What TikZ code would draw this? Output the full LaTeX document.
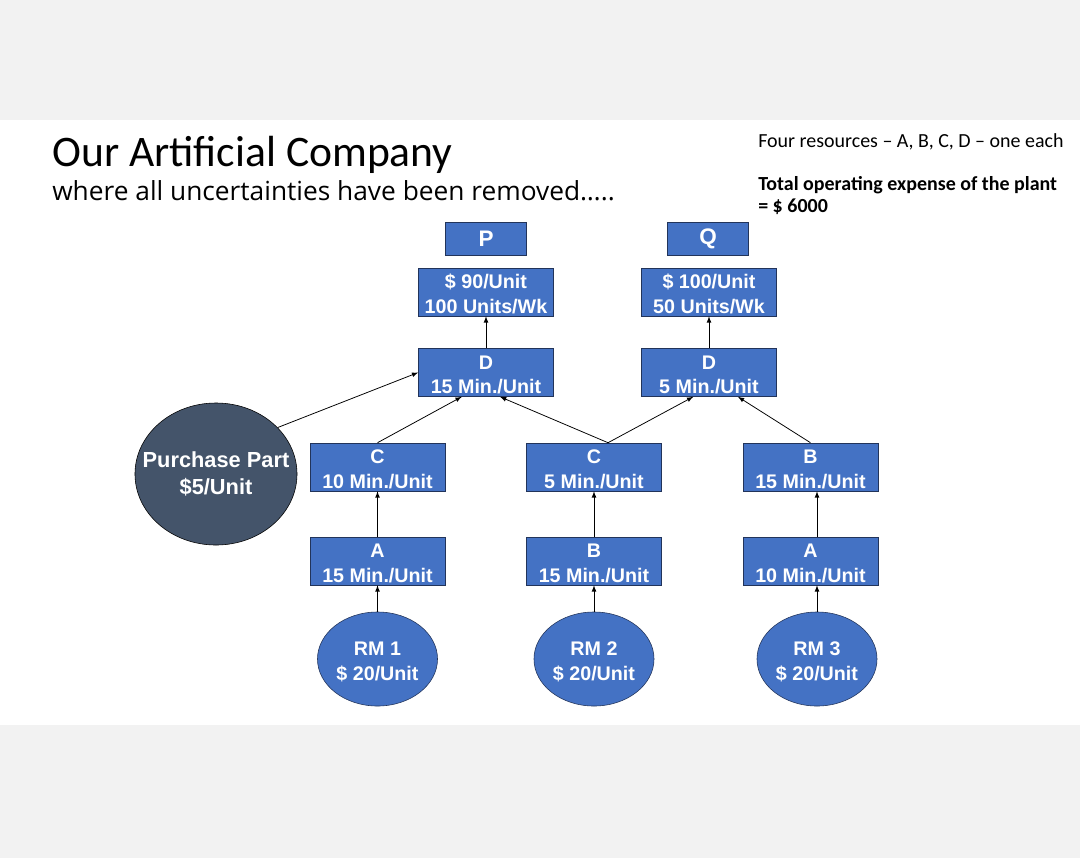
\documentclass[tikz,border=0pt]{standalone}
\usepackage{fontspec}
\setmainfont{Liberation Sans}
\newfontfamily\calibri{Carlito}
\newfontfamily\handfont{Open Sans}
\usepackage{tikz}
\usetikzlibrary{arrows,shapes.geometric}
\definecolor{boxblue}{RGB}{68,114,196}
\definecolor{boxedge}{RGB}{34,52,90}
\definecolor{slate}{RGB}{68,84,106}
\definecolor{pagegray}{RGB}{242,242,242}

\begin{document}
\begin{tikzpicture}[x=0.025cm, y=-0.025cm,
	blue/.style={draw=boxedge, fill=boxblue, text=white, align=center, inner sep=0pt,
		font=\fontsize{14}{17.5}\selectfont\bfseries},
	res/.style={blue, text height=30.5pt, minimum width=3.375cm, minimum height=1.2cm},
	prod/.style={blue, font=\fontsize{16}{18}\selectfont\bfseries, minimum width=2.025cm, minimum height=0.825cm},
	rawmat/.style={blue, ellipse, text height=31pt, minimum width=3cm, minimum height=2.35cm},
	arr/.style={-latex, line width=0.55pt}]
	\fill [pagegray] (0,0) rectangle (1080,858);
	\fill [white] (0,120) rectangle (1080,725);
	\useasboundingbox (0,0) rectangle (1080,858);
	% heading
	\node [anchor=base west, inner sep=0pt, font=\calibri\fontsize{31}{36}\selectfont] (title) at (52,166) {Our Artificial Company};
	\node [anchor=base west, inner sep=0pt, font=\handfont\fontsize{18.7}{20}\selectfont] (subtitle) at (52,200) {where all uncertainties have been removed\dots..};
	\node [anchor=base west, inner sep=0pt, font=\calibri\fontsize{14.2}{16}\selectfont] (note) at (758,147) {Four resources \textendash{} A, B, C, D \textendash{} one each};
	\node [anchor=north west, inner sep=0pt, align=left, font=\calibri\fontsize{14.2}{15.8}\bfseries\selectfont] (expense) at (758,176) {Total operating expense of the plant\\= \$ 6000};
	% products
	\node [prod] (p) at (486,238.5) {P};
	\node [prod] (q) at (708,238.5) {Q};
	\node [res] (pprice) at (486,292) {\$ 90/Unit\\100 Units/Wk};
	\node [res] (qprice) at (709,292) {\$ 100/Unit\\50 Units/Wk};
	% resources
	\node [res] (d1) at (486,372.5) {D\\15 Min./Unit};
	\node [res] (d2) at (709,372.5) {D\\5 Min./Unit};
	\node [res] (c1) at (377.5,467) {C\\10 Min./Unit};
	\node [res] (c2) at (594,467) {C\\5 Min./Unit};
	\node [res] (b1) at (810.5,467) {B\\15 Min./Unit};
	\node [res] (a1) at (377.5,561) {A\\15 Min./Unit};
	\node [res] (b2) at (594,561) {B\\15 Min./Unit};
	\node [res] (a2) at (810.5,561) {A\\10 Min./Unit};
	\node [rawmat] (rm1) at (377.5,659) {RM 1\\\$ 20/Unit};
	\node [rawmat] (rm2) at (594,659) {RM 2\\\$ 20/Unit};
	\node [rawmat] (rm3) at (817,659) {RM 3\\\$ 20/Unit};
	\node [blue, ellipse, fill=slate, draw=black, font=\fontsize{15.5}{19}\selectfont\bfseries,
		inner xsep=-14pt, minimum width=4.05cm, minimum height=3.55cm] (buy) at (216,474) {Purchase Part\\\$5/Unit};
	% flows
	\draw [arr] (d1) -- (pprice);
	\draw [arr] (d2) -- (qprice);
	\draw [arr] (buy.37) -- (d1.west);
	\draw [arr] (c1.north) -- (d1.225);
	\draw [arr] (c2.60) -- (d1.300);
	\draw [arr] (c2.60) -- (d2.237);
	\draw [arr] (b1.north) -- (d2.320);
	\draw [arr] (a1) -- (c1);
	\draw [arr] (b2) -- (c2);
	\draw [arr] (rm3.north |- a2.north) -- (rm3.north |- b1.south);
	\draw [arr] (rm1) -- (a1);
	\draw [arr] (rm2) -- (b2);
	\draw [arr] (rm3.north) -- (rm3.north |- a2.south);
\end{tikzpicture}
\end{document}
